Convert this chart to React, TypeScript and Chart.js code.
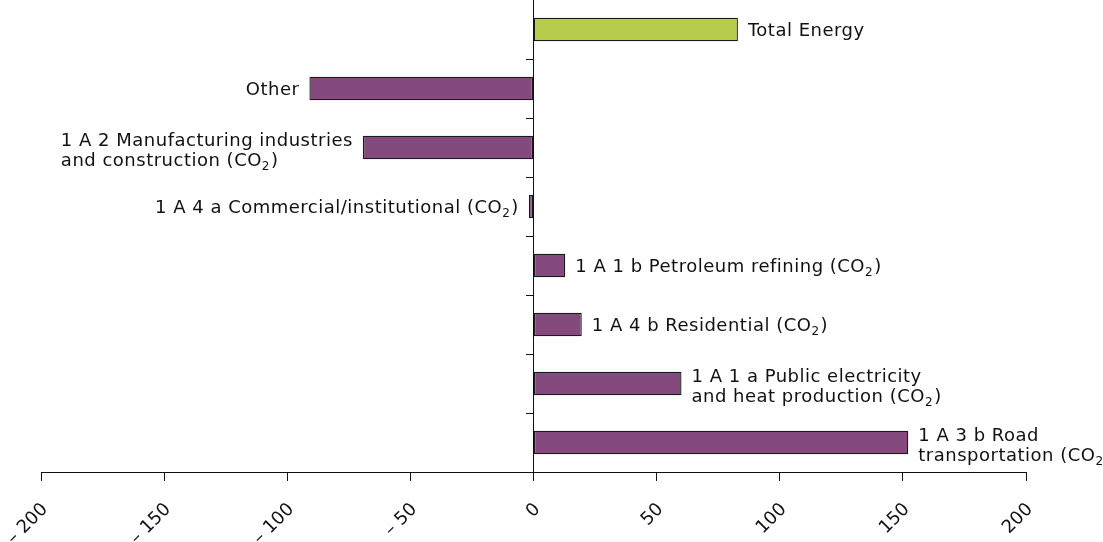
import React, { useEffect, useRef } from 'react';
import { Chart, registerables } from 'chart.js';

Chart.register(...registerables);

const categories = [
  'Total Energy',
  'Other',
  '1 A 2 Manufacturing industries and construction (CO₂)',
  '1 A 4 a Commercial/institutional (CO₂)',
  '1 A 1 b Petroleum refining (CO₂)',
  '1 A 4 b Residential (CO₂)',
  '1 A 1 a Public electricity and heat production (CO₂)',
  '1 A 3 b Road transportation (CO₂)',
];

const labelLines = [
  ['Total Energy'],
  ['Other'],
  ['1 A 2 Manufacturing industries', 'and construction (CO₂)'],
  ['1 A 4 a Commercial/institutional (CO₂)'],
  ['1 A 1 b Petroleum refining (CO₂)'],
  ['1 A 4 b Residential (CO₂)'],
  ['1 A 1 a Public electricity', 'and heat production (CO₂)'],
  ['1 A 3 b Road', 'transportation (CO₂)'],
];

const values = [83, -91, -69.3, -1.9, 12.9, 19.6, 60.1, 152.2];

const xTickValues = [-200, -150, -100, -50, 0, 50, 100, 150, 200];
const xTickLabels = ['– 200', '– 150', '– 100', '– 50', '0', '50', '100', '150', '200'];

const GREEN = '#b6cd4c';
const PURPLE = '#844a7e';
const FONT = '18px "DejaVu Sans"';
const SUB_FONT = '12px "DejaVu Sans"';
const SUB = '₂';

function measureLine(ctx: CanvasRenderingContext2D, line: string): number {
  const parts = line.split(SUB);
  let w = 0;
  parts.forEach((p, i) => {
    ctx.font = FONT;
    w += ctx.measureText(p).width;
    if (i < parts.length - 1) {
      ctx.font = SUB_FONT;
      w += ctx.measureText('2').width + 1;
    }
  });
  return w;
}

function drawLine(ctx: CanvasRenderingContext2D, line: string, x: number, y: number) {
  const parts = line.split(SUB);
  let cx = x;
  parts.forEach((p, i) => {
    ctx.font = FONT;
    ctx.fillText(p, cx, y);
    cx += ctx.measureText(p).width;
    if (i < parts.length - 1) {
      ctx.font = SUB_FONT;
      ctx.fillText('2', cx, y + 4);
      cx += ctx.measureText('2').width + 1;
    }
  });
}

const labelPlugin = {
  id: 'barLabels',
  afterDatasetsDraw(chart: any) {
    const ctx: CanvasRenderingContext2D = chart.ctx;
    const meta = chart.getDatasetMeta(0);
    ctx.save();
    ctx.fillStyle = '#111';
    ctx.textBaseline = 'alphabetic';
    ctx.textAlign = 'left';
    (ctx as any).letterSpacing = '0.5px';
    meta.data.forEach((bar: any, i: number) => {
      const lines = labelLines[i];
      const { x, y } = bar.getProps(['x', 'y'], true);
      const n = lines.length;
      const y0 = n === 1 ? y + 6 : y - 2;
      const widths = lines.map((l) => measureLine(ctx, l));
      const blockW = Math.max(...widths);
      const startX = values[i] >= 0 ? x + 10 : x - 10 - blockW;
      lines.forEach((line, j) => drawLine(ctx, line, startX, y0 + j * 20));
    });
    ctx.restore();
  },
};

export default function App() {
  const ref = useRef<HTMLCanvasElement>(null);
  useEffect(() => {
    if (!ref.current) return;
    const chart = new Chart(ref.current, {
      type: 'bar',
      data: {
        labels: categories,
        datasets: [
          {
            data: values,
            backgroundColor: (c: any) => (categories[c.dataIndex] === 'Total Energy' ? GREEN : PURPLE),
            borderColor: '#1a1a1a',
            borderWidth: 1.3,
            borderSkipped: false,
            barPercentage: 0.4,
            categoryPercentage: 1,
          },
        ],
      },
      options: {
        indexAxis: 'y',
        animation: false,
        responsive: false,
        layout: { padding: { left: 41, right: 77, top: 0, bottom: 0 } },
        plugins: { legend: { display: false }, tooltip: { enabled: false } },
        scales: {
          x: {
            axis: 'x',
            type: 'linear',
            position: 'bottom',
            min: -200,
            max: 200,
            afterFit: (s: any) => {
              s.height = 70;
              s.paddingLeft = 0;
              s.paddingRight = 0;
              s.paddingTop = 0;
              s.paddingBottom = 0;
            },
            afterBuildTicks: (s: any) => {
              s.ticks = xTickValues.map((v) => ({ value: v }));
            },
            ticks: {
              autoSkip: false,
              minRotation: 45,
              maxRotation: 45,
              padding: 18,
              labelOffset: 4,
              color: '#111',
              font: { family: 'DejaVu Sans', size: 18 },
              callback: (v: any) => {
                const i = xTickValues.indexOf(Number(v));
                return i >= 0 ? xTickLabels[i] : '';
              },
            },
            grid: { drawOnChartArea: false, drawTicks: true, tickLength: 9, color: '#111', lineWidth: 1 },
            border: { display: true, color: '#111', width: 1 },
          },
          y: {
            axis: 'y',
            type: 'category',
            position: { x: 0 },
            offset: true,
            ticks: { display: false },
            grid: {
              offset: true,
              drawOnChartArea: false,
              drawTicks: true,
              tickLength: 7,
              color: (c: any) => (c.index === 0 ? 'rgba(0,0,0,0)' : '#111'),
            },
            border: { display: true, color: '#111', width: 1 },
          },
        },
      },
      plugins: [labelPlugin],
    } as any);
    return () => chart.destroy();
  }, []);
  return (
    <div style={{ position: 'absolute', left: 0, top: 0, width: 1103, height: 542, background: '#fff' }}>
      <canvas ref={ref} width={1103} height={542} style={{ display: 'block' }} />
    </div>
  );
}
